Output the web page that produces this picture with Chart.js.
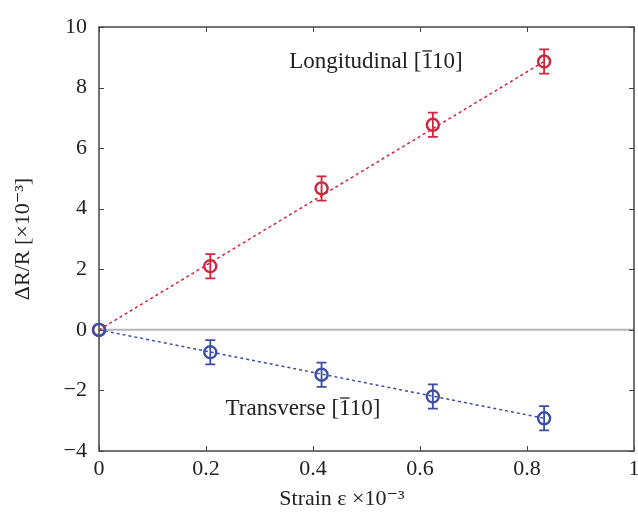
<!DOCTYPE html>
<html>
<head>
<meta charset="utf-8">
<script src="https://cdn.jsdelivr.net/npm/chart.js@4"></script>
<style>
  html, body { margin: 0; padding: 0; background: #fff; }
  #wrap { width: 638px; height: 517px; }
</style>
</head>
<body>
<div id="wrap"><canvas id="grafico" width="638" height="517"></canvas></div>
<script>
// strain values (x10^-3)
const strain = [0, 0.208, 0.416, 0.624, 0.832];
const longitudinal = [0, 2.1, 4.67, 6.77, 8.86];
const longErr = [0, 0.4, 0.4, 0.4, 0.4];
const transverse = [0, -0.74, -1.48, -2.2, -2.92];
const transErr = [0, 0.4, 0.4, 0.4, 0.4];
const yTicks = [-4, -2, 0, 2, 4, 6, 8, 10];
const xTicks = [0, 0.2, 0.4, 0.6, 0.8, 1];

const RED = '#d0253c';
const BLUE = '#3b4ea8';
const SERIF = '"Liberation Serif", "DejaVu Serif", serif';

function pts(xs, ys) {
    return xs.map((x, i) => ({ x: x, y: ys[i] }));
}

// writes "prefix [1̄10]" with a bar drawn over the first 1
function labelBarra(ctx, prefixo, cx, cy) {
    const antes = prefixo + ' [';
    const total = antes + '110]';
    const w = ctx.measureText(total).width;
    const x0 = cx - w / 2;
    ctx.textAlign = 'left';
    ctx.fillText(total, x0, cy);
    const xa = x0 + ctx.measureText(antes).width;
    const w1 = ctx.measureText('1').width;
    ctx.save();
    ctx.strokeStyle = ctx.fillStyle;
    ctx.lineWidth = 1.3;
    ctx.beginPath();
    ctx.moveTo(xa + 1, cy - 11);
    ctx.lineTo(xa + w1 - 1, cy - 11);
    ctx.stroke();
    ctx.restore();
}

const errorBars = {
    id: 'errorBars',
    afterDatasetsDraw(chart) {
        const ctx = chart.ctx;
        const xs = chart.scales.x, ys = chart.scales.y;
        const sets = [[longitudinal, longErr, RED], [transverse, transErr, BLUE]];
        ctx.save();
        ctx.lineWidth = 1.8;
        sets.forEach(([vals, errs, col]) => {
            ctx.strokeStyle = col;
            vals.forEach((v, i) => {
                if (!errs[i]) return;
                const px = xs.getPixelForValue(strain[i]);
                const top = ys.getPixelForValue(v + errs[i]);
                const bot = ys.getPixelForValue(v - errs[i]);
                ctx.beginPath();
                ctx.moveTo(px, top); ctx.lineTo(px, bot);
                ctx.moveTo(px - 5, top); ctx.lineTo(px + 5, top);
                ctx.moveTo(px - 5, bot); ctx.lineTo(px + 5, bot);
                ctx.stroke();
            });
        });
        ctx.restore();
    }
};

const frame = {
    id: 'frame',
    beforeDatasetsDraw(chart) {
        const ctx = chart.ctx;
        const a = chart.chartArea;
        const xs = chart.scales.x, ys = chart.scales.y;
        ctx.save();
        // zero line
        ctx.strokeStyle = '#b4b4b4';
        ctx.lineWidth = 2;
        const y0 = ys.getPixelForValue(0);
        ctx.beginPath(); ctx.moveTo(a.left, y0); ctx.lineTo(a.right, y0); ctx.stroke();

        // box + inward ticks
        ctx.strokeStyle = '#444';
        ctx.lineWidth = 1.5;
        ctx.strokeRect(a.left, a.top, a.right - a.left, a.bottom - a.top);
        ctx.lineWidth = 1;
        ctx.beginPath();
        xTicks.forEach(t => {
            const px = Math.round(xs.getPixelForValue(t)) + 0.5;
            ctx.moveTo(px, a.bottom); ctx.lineTo(px, a.bottom - 5);
            ctx.moveTo(px, a.top); ctx.lineTo(px, a.top + 5);
        });
        yTicks.forEach(t => {
            const py = Math.round(ys.getPixelForValue(t)) + 0.5;
            ctx.moveTo(a.left, py); ctx.lineTo(a.left + 5, py);
            ctx.moveTo(a.right, py); ctx.lineTo(a.right - 5, py);
        });
        ctx.stroke();
        ctx.restore();
    },
    afterDraw(chart) {
        const ctx = chart.ctx;
        ctx.save();
        // text labels
        ctx.fillStyle = '#222';
        ctx.font = '23px ' + SERIF;
        ctx.textBaseline = 'middle';
        labelBarra(ctx, 'Longitudinal', 376, 62);
        labelBarra(ctx, 'Transverse', 303, 409);

        // x axis title
        ctx.font = '22px ' + SERIF;
        ctx.textAlign = 'center';
        ctx.fillText('Strain \u03b5 \u00d710\u207b\u00b3', 342, 499);
        ctx.restore();
    }
};

// first dataset in the list is drawn on top
new Chart(document.getElementById('grafico'), {
    type: 'scatter',
    data: {
        datasets: [
            {
                label: 'Transverse',
                data: pts(strain, transverse),
                borderColor: BLUE,
                backgroundColor: 'rgba(0,0,0,0)',
                borderWidth: 2.4,
                pointRadius: 6,
                clip: false
            },
            {
                label: 'Longitudinal',
                data: pts(strain, longitudinal),
                borderColor: RED,
                backgroundColor: 'rgba(0,0,0,0)',
                borderWidth: 2.4,
                pointRadius: 6,
                clip: false
            },
            {
                label: 'fitLong',
                data: [{ x: 0, y: 0 }, { x: strain[4], y: longitudinal[4] }],
                showLine: true,
                borderColor: RED,
                borderWidth: 1.5,
                borderDash: [3, 3],
                pointRadius: 0
            },
            {
                label: 'fitTrans',
                data: [{ x: 0, y: 0 }, { x: strain[4], y: transverse[4] }],
                showLine: true,
                borderColor: BLUE,
                borderWidth: 1.5,
                borderDash: [3, 3],
                pointRadius: 0
            }
        ]
    },
    options: {
        responsive: false,
        animation: false,
        layout: { autoPadding: false, padding: { top: 27, right: 4, left: 10, bottom: 0 } },
        plugins: {
            legend: { display: false },
            tooltip: { enabled: false }
        },
        scales: {
            x: {
                type: 'linear',
                min: 0, max: 1,
                afterBuildTicks: s => { s.ticks = xTicks.map(v => ({ value: v })); },
                afterFit: s => { s.height = 66; s.paddingLeft = 0; s.paddingRight = 0; },
                grid: { display: false, drawTicks: false },
                border: { display: false },
                ticks: {
                    padding: 5,
                    color: '#222',
                    font: { family: SERIF, size: 22 },
                    maxRotation: 0,
                    callback: v => String(v)
                },
                title: { display: false }
            },
            y: {
                type: 'linear',
                min: -4, max: 10,
                afterBuildTicks: s => { s.ticks = yTicks.map(v => ({ value: v })); },
                afterFit: s => { s.width = 89; s.paddingTop = 0; s.paddingBottom = 0; },
                grid: { display: false, drawTicks: false },
                border: { display: false },
                ticks: {
                    padding: 12,
                    color: '#222',
                    font: { family: SERIF, size: 22 },
                    callback: v => v < 0 ? '\u2212' + Math.abs(v) : String(v)
                },
                title: {
                    display: true,
                    text: '\u0394R/R [\u00d710\u207b\u00b3]',
                    color: '#222',
                    font: { family: SERIF, size: 22 },
                    padding: { top: 0, bottom: 4 }
                }
            }
        }
    },
    plugins: [frame, errorBars]
});
</script>
</body>
</html>
